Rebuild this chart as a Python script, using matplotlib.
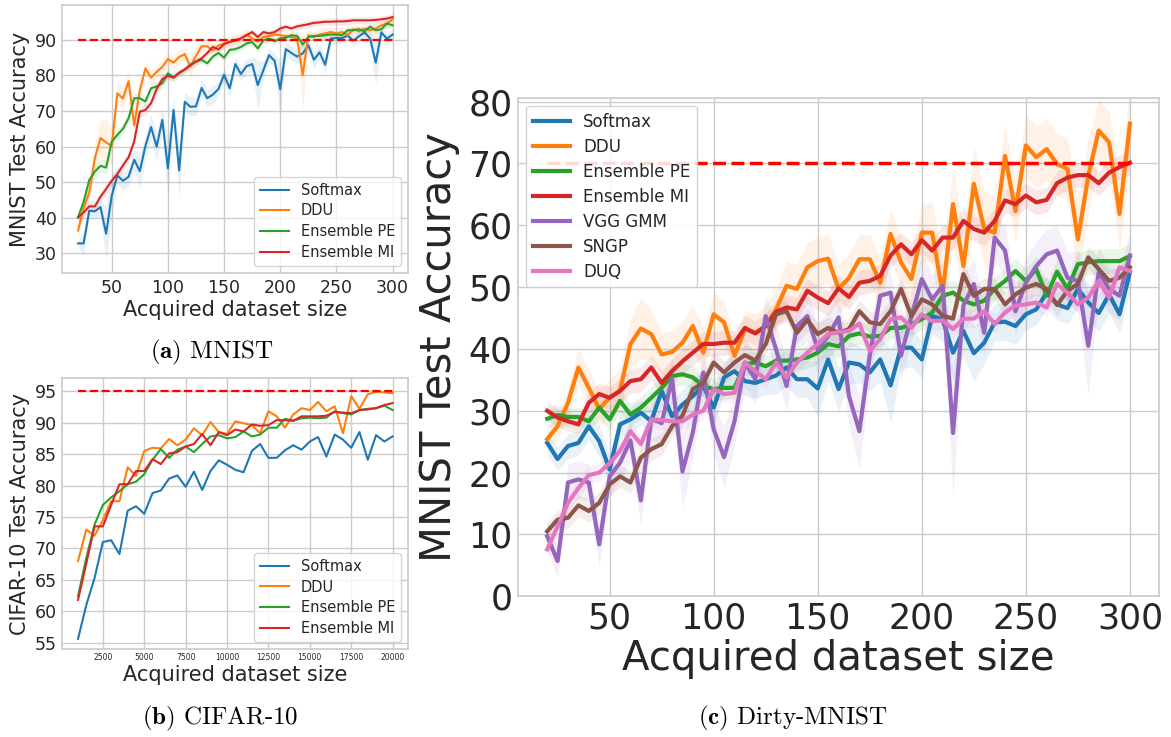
import matplotlib
matplotlib.use("Agg")
import matplotlib.pyplot as plt

# ── Data ──────────────────────────────────────────────────────────────────────

MNIST_SIZES = list(range(20, 301, 5))
CIFAR_SIZES = list(range(1000, 20001, 500))

# (a) MNIST
mnist_softmax = [32.8, 32.8, 42.0, 41.8, 43.0, 35.5, 46.2, 51.9, 50.4, 51.5, 56.3, 53.1, 60.2, 65.5, 60.0,
                 67.5, 53.9, 70.3, 53.3, 72.6, 71.2, 71.3, 76.5, 73.6, 74.6, 76.2, 80.2, 76.4, 83.2, 80.4,
                 82.6, 83.2, 77.3, 81.5, 85.7, 84.1, 76.1, 87.4, 86.3, 85.3, 86.2, 88.5, 84.4, 86.5, 83.0,
                 90.4, 90.5, 90.5, 91.2, 89.8, 91.0, 92.1, 90.4, 83.6, 92.1, 90.3, 91.5]
mnist_ddu = [36.4, 42.8, 47.0, 56.8, 62.4, 61.2, 60.2, 75.0, 73.5, 78.4, 66.0, 75.8, 82.0, 79.4, 81.0,
             82.4, 84.6, 83.6, 85.2, 86.0, 82.5, 85.5, 88.2, 88.2, 87.0, 88.4, 89.0, 89.5, 89.9, 90.4,
             91.5, 90.4, 89.5, 90.8, 91.1, 91.5, 91.3, 91.1, 90.8, 90.4, 80.1, 91.3, 90.8, 91.5, 91.8,
             92.2, 91.8, 92.2, 91.3, 93.0, 92.4, 93.2, 92.7, 93.2, 94.1, 94.6, 95.8]
mnist_pe = [40.1, 44.5, 50.6, 53.0, 54.6, 54.1, 61.4, 63.3, 65.0, 68.0, 73.6, 73.6, 72.7, 76.4, 76.9,
            77.8, 80.6, 79.4, 80.6, 81.6, 83.0, 83.9, 84.4, 83.4, 85.3, 86.3, 85.0, 87.2, 87.4, 88.0,
            89.0, 89.4, 87.6, 89.9, 90.4, 89.6, 90.4, 90.6, 91.3, 91.1, 88.7, 90.8, 91.1, 91.1, 91.3,
            91.5, 91.5, 91.3, 92.7, 92.7, 93.0, 92.4, 93.7, 92.7, 93.0, 94.6, 94.1]
mnist_mi = [40.1, 41.5, 43.2, 43.2, 45.9, 48.1, 50.4, 52.3, 54.7, 57.0, 61.5, 69.8, 70.3, 72.2, 76.2,
            79.0, 79.9, 79.4, 80.8, 81.7, 82.9, 83.9, 84.8, 86.3, 88.0, 87.3, 88.8, 89.4, 89.8, 90.4,
            91.3, 92.2, 90.8, 92.2, 91.8, 92.2, 93.2, 93.7, 93.2, 93.8, 94.1, 94.4, 94.8, 94.9, 95.1,
            95.1, 95.2, 95.2, 95.3, 95.5, 95.5, 95.5, 95.5, 95.6, 95.8, 96.0, 96.4]
mnist_softmax_std = [1.2, 3.0, 2.0, 2.0, 2.5, 7.5, 6.0, 2.5, 2.5, 2.5, 3.0, 5.0, 3.5, 3.5, 4.0,
                     3.5, 8.5, 3.5, 8.0, 3.0, 2.5, 2.5, 2.5, 2.5, 2.5, 2.0, 2.0, 2.5, 2.0, 2.0,
                     2.0, 2.0, 7.0, 2.5, 2.0, 2.0, 8.0, 2.0, 2.0, 2.0, 2.5, 2.0, 2.5, 2.0, 2.5,
                     1.5, 1.5, 1.5, 1.5, 1.5, 1.5, 1.5, 2.0, 6.5, 1.5, 1.5, 1.5]
mnist_ddu_std = [1.5, 2.0, 2.5, 4.0, 5.0, 6.5, 5.0, 3.0, 3.0, 3.0, 5.0, 3.0, 2.0, 2.0, 2.0,
                 2.0, 2.0, 2.0, 2.0, 2.0, 3.0, 2.0, 1.5, 1.5, 1.5, 1.5, 1.5, 1.5, 1.5, 1.5,
                 1.5, 1.5, 2.0, 1.5, 1.5, 1.5, 1.5, 1.5, 1.5, 1.5, 11.0, 1.5, 1.5, 1.5, 1.5,
                 1.5, 1.5, 1.5, 1.5, 1.5, 1.5, 1.5, 1.5, 1.5, 1.5, 1.5, 1.5]
mnist_pe_std = [1.5, 2.0, 2.0, 2.0, 2.0, 2.0, 2.0, 1.5, 1.5, 1.5, 1.5, 1.5, 1.5, 1.5, 1.5,
                1.5, 1.5, 1.0, 1.0, 1.0, 1.0, 1.0, 1.0, 1.0, 1.0, 1.0, 1.0, 1.0, 1.0, 1.0,
                1.0, 1.0, 1.0, 1.0, 1.0, 1.0, 1.0, 1.0, 1.0, 1.0, 1.0, 1.0, 1.0, 1.0, 1.0,
                1.0, 1.0, 1.0, 1.0, 1.0, 1.0, 1.0, 1.0, 1.0, 1.0, 1.0, 1.0]
mnist_mi_std = [1.5, 1.5, 1.5, 1.5, 1.5, 1.5, 1.5, 1.5, 1.5, 1.5, 1.5, 1.5, 1.5, 1.5, 1.5,
                1.5, 1.0, 1.0, 1.0, 1.0, 1.0, 1.0, 1.0, 1.0, 1.0, 1.0, 1.0, 1.0, 1.0, 1.0,
                1.0, 1.0, 1.0, 1.0, 1.0, 1.0, 1.0, 1.0, 1.0, 1.0, 1.0, 1.0, 1.0, 1.0, 1.0,
                1.0, 1.0, 1.0, 1.0, 1.0, 1.0, 1.0, 1.0, 1.0, 1.0, 1.0, 1.0]

# (b) CIFAR-10
cifar_softmax = [55.6, 61.0, 65.3, 71.0, 71.3, 69.1, 76.0, 76.7, 75.5, 78.8, 79.2, 81.1, 81.6, 79.8,
                 82.2, 79.3, 82.3, 84.0, 83.3, 82.5, 82.1, 85.5, 86.6, 84.4, 84.4, 85.6, 86.4, 85.7,
                 87.0, 87.7, 84.6, 88.1, 87.3, 86.0, 88.5, 84.1, 88.0, 87.0, 87.8]
cifar_ddu = [68.0, 73.0, 72.0, 74.5, 77.5, 77.5, 82.9, 81.5, 85.5, 86.0, 85.9, 87.4, 86.4, 87.3,
             89.1, 88.0, 90.1, 88.5, 88.2, 90.2, 89.9, 89.6, 88.3, 91.8, 91.0, 89.2, 91.3, 92.3,
             92.0, 93.3, 91.8, 92.6, 88.3, 94.2, 92.2, 94.5, 94.9, 94.8, 94.7]
cifar_pe = [62.4, 68.5, 73.8, 76.9, 78.1, 79.1, 80.2, 80.6, 81.8, 84.1, 85.8, 84.4, 85.7, 86.2,
            85.3, 86.6, 87.8, 88.0, 87.5, 87.7, 88.6, 87.8, 88.1, 89.2, 89.2, 90.6, 90.3, 90.7,
            90.8, 90.7, 90.8, 91.8, 91.5, 91.3, 92.0, 92.2, 92.3, 92.7, 92.0]
cifar_mi = [61.8, 67.6, 73.5, 73.5, 76.9, 80.2, 80.2, 82.3, 82.3, 84.2, 83.4, 85.1, 85.3, 86.2,
            86.6, 88.2, 86.4, 88.5, 88.0, 88.9, 88.6, 89.7, 89.5, 89.6, 90.4, 90.4, 90.3, 91.0,
            91.0, 91.0, 91.1, 91.7, 91.6, 91.5, 92.0, 92.1, 92.3, 92.8, 93.1]

# (c) Dirty-MNIST
dirty_softmax = [24.8, 22.2, 24.3, 24.8, 27.5, 25.1, 20.5, 27.8, 28.6, 29.7, 28.3, 33.2, 29.1, 31.0, 32.4,
                 34.0, 30.5, 35.4, 36.4, 34.8, 34.5, 35.1, 35.7, 37.0, 35.1, 35.1, 33.6, 38.3, 33.5, 37.8,
                 37.5, 36.2, 38.3, 34.1, 40.2, 40.2, 38.3, 45.3, 44.8, 39.4, 42.9, 39.3, 41.0, 44.3, 44.4,
                 43.7, 45.6, 46.4, 49.1, 47.2, 46.6, 49.7, 47.5, 45.8, 48.8, 45.6, 52.4]
dirty_ddu = [25.4, 27.5, 31.3, 37.0, 33.7, 30.3, 32.1, 33.3, 40.8, 43.3, 42.4, 39.1, 39.5, 41.0, 43.7,
             39.4, 45.6, 44.3, 38.9, 43.2, 42.6, 43.7, 46.4, 50.2, 49.7, 53.2, 54.2, 54.6, 49.7, 51.5,
             54.5, 54.5, 50.7, 58.6, 54.0, 51.3, 58.8, 58.8, 49.0, 63.4, 53.4, 66.7, 59.4, 58.8, 71.2,
             62.3, 72.9, 71.0, 72.3, 69.9, 69.1, 57.7, 68.0, 75.3, 73.4, 61.8, 76.4]
dirty_pe = [28.7, 29.3, 29.0, 29.0, 28.3, 30.5, 28.6, 31.6, 29.4, 30.5, 32.1, 33.7, 35.6, 35.9, 35.4,
            34.0, 33.5, 33.7, 33.7, 37.5, 37.8, 37.2, 38.1, 38.1, 38.3, 38.6, 39.4, 40.8, 40.4, 42.1,
            42.5, 42.0, 42.1, 43.4, 43.4, 44.0, 44.8, 45.9, 48.6, 49.1, 47.8, 47.2, 47.8, 49.7, 51.0,
            52.6, 51.0, 52.9, 48.6, 52.5, 49.7, 53.7, 54.0, 54.2, 54.2, 54.2, 55.0]
dirty_mi = [30.0, 28.9, 28.3, 27.8, 31.3, 32.7, 32.1, 33.2, 34.8, 35.1, 37.0, 34.5, 36.4, 38.0, 39.4,
            40.8, 40.8, 41.0, 41.0, 43.4, 42.5, 43.7, 46.0, 46.7, 46.4, 49.4, 48.3, 47.4, 49.8, 48.4,
            50.7, 51.0, 51.8, 55.1, 56.9, 55.3, 57.6, 55.9, 58.0, 58.0, 60.7, 59.4, 58.8, 60.7, 64.0,
            63.4, 64.8, 63.7, 64.1, 66.8, 67.7, 68.1, 68.1, 66.8, 68.5, 69.4, 70.1]
dirty_vgg = [9.7, 5.7, 18.4, 18.9, 18.4, 8.4, 19.4, 21.6, 25.2, 15.5, 28.7, 28.0, 35.2, 20.2, 26.5,
             36.2, 27.0, 22.5, 28.3, 37.8, 35.1, 45.3, 39.9, 34.0, 43.7, 45.3, 39.9, 42.1, 45.1, 32.4,
             26.7, 38.9, 48.6, 49.1, 38.9, 45.3, 51.3, 48.0, 50.2, 26.4, 47.0, 50.5, 42.6, 58.0, 55.9,
             46.1, 50.7, 53.4, 55.3, 55.9, 51.5, 51.0, 40.5, 52.4, 49.7, 48.6, 55.1]
dirty_sngp = [10.5, 12.4, 12.7, 14.7, 13.8, 15.1, 18.1, 19.4, 18.4, 22.4, 23.8, 24.6, 27.5, 29.2, 33.5,
              34.5, 37.8, 36.2, 37.8, 39.0, 38.1, 40.8, 45.6, 46.1, 42.6, 44.7, 42.4, 43.4, 42.6, 43.2,
              46.1, 44.3, 44.0, 46.1, 49.7, 45.3, 48.0, 47.2, 45.4, 44.9, 52.1, 48.6, 49.7, 49.7, 47.2,
              48.8, 49.9, 50.5, 49.7, 47.1, 49.4, 50.5, 54.8, 52.9, 51.0, 51.5, 53.2]
dirty_duq = [7.6, 11.3, 15.1, 17.5, 19.6, 20.0, 21.5, 23.5, 26.7, 24.6, 28.6, 28.5, 28.3, 28.3, 29.4,
             30.0, 33.5, 32.7, 32.9, 37.8, 36.4, 35.1, 37.8, 35.4, 37.8, 39.4, 40.8, 42.4, 42.7, 42.9,
             44.1, 39.7, 41.6, 44.8, 45.1, 43.4, 45.6, 44.5, 44.6, 43.2, 44.9, 44.9, 46.1, 44.0, 45.9,
             47.0, 47.2, 47.5, 46.7, 50.5, 49.1, 47.2, 48.3, 51.0, 48.3, 53.2, 52.6]

dirty_softmax_std = [2.0, 1.8, 2.0, 2.0, 2.2, 2.5, 2.5, 2.2, 2.0, 2.0, 2.0, 2.5, 2.5, 2.5, 2.5,
                     2.5, 3.0, 2.5, 2.5, 2.5, 2.5, 2.5, 3.0, 3.0, 3.0, 3.0, 4.5, 3.5, 3.5, 3.5,
                     3.0, 3.0, 3.5, 6.0, 3.5, 3.0, 3.0, 3.0, 3.5, 4.5, 4.0, 4.5, 3.5, 3.0, 3.0,
                     3.0, 2.5, 2.5, 2.5, 2.5, 2.5, 3.0, 3.0, 3.0, 3.0, 3.0, 3.0]
dirty_ddu_std = [1.5, 2.0, 2.5, 3.0, 3.0, 3.0, 3.0, 3.5, 4.0, 5.0, 4.0, 3.5, 3.5, 3.5, 3.5,
                 3.5, 3.5, 3.5, 3.0, 3.0, 3.0, 3.5, 3.5, 4.0, 4.0, 4.0, 4.0, 4.0, 4.0, 4.0,
                 4.0, 4.0, 4.0, 4.0, 4.0, 4.5, 4.5, 5.0, 6.0, 6.0, 6.0, 6.0, 6.0, 6.0, 5.0,
                 5.0, 5.0, 5.0, 5.0, 5.0, 5.0, 6.0, 6.0, 5.0, 5.0, 6.0, 6.0]
dirty_pe_std = [1.5, 1.5, 1.5, 1.5, 1.5, 1.8, 1.8, 1.8, 1.8, 1.8, 1.8, 1.8, 1.8, 1.8, 1.8,
                1.8, 1.8, 1.8, 1.8, 1.8, 1.8, 1.8, 1.8, 1.8, 1.8, 1.8, 1.8, 1.8, 1.8, 1.8,
                1.8, 1.8, 1.8, 1.8, 1.8, 1.8, 1.8, 1.8, 2.0, 2.0, 2.0, 2.0, 2.0, 2.0, 2.0,
                2.0, 2.0, 2.0, 2.0, 2.0, 2.0, 2.0, 2.0, 2.0, 2.0, 2.0, 2.0]
dirty_mi_std = [1.5, 1.5, 1.5, 1.5, 1.8, 1.8, 1.8, 2.0, 2.0, 2.0, 2.0, 2.0, 2.0, 2.0, 2.0,
                2.0, 2.0, 2.0, 2.0, 2.0, 2.0, 2.0, 2.0, 2.0, 2.0, 2.0, 2.0, 2.0, 2.0, 2.0,
                2.0, 2.0, 2.0, 2.0, 2.0, 2.0, 2.0, 2.0, 2.0, 2.0, 2.0, 2.0, 2.0, 2.0, 2.0,
                2.0, 2.0, 2.0, 2.0, 2.0, 2.0, 2.0, 2.0, 2.0, 2.0, 2.0, 2.0]
dirty_vgg_std = [2.5, 2.5, 3.0, 3.0, 3.0, 3.5, 3.0, 3.0, 3.0, 4.0, 3.5, 3.5, 3.5, 6.0, 4.0,
                 3.5, 4.0, 5.0, 4.0, 4.0, 4.0, 3.5, 4.0, 4.0, 4.0, 4.0, 4.0, 4.0, 4.0, 5.0,
                 6.0, 4.0, 3.5, 3.5, 4.0, 4.0, 4.0, 4.0, 4.0, 10.0, 5.0, 4.0, 4.0, 4.0, 4.0,
                 4.0, 4.0, 4.0, 4.0, 4.0, 4.0, 5.0, 8.0, 4.0, 4.0, 4.0, 4.0]
dirty_sngp_std = [1.5, 1.5, 1.8, 1.8, 1.8, 1.8, 1.8, 1.8, 1.8, 1.8, 1.8, 1.8, 1.8, 1.8, 1.8,
                  1.8, 1.8, 1.8, 1.8, 1.8, 1.8, 1.8, 1.8, 1.8, 1.8, 1.8, 1.8, 1.8, 1.8, 1.8,
                  1.8, 1.8, 1.8, 1.8, 1.8, 1.8, 1.8, 1.8, 1.8, 1.8, 1.8, 1.8, 1.8, 1.8, 1.8,
                  1.8, 1.8, 1.8, 1.8, 1.8, 1.8, 1.8, 1.8, 1.8, 1.8, 1.8, 1.8]
dirty_duq_std = [1.5, 1.5, 1.5, 1.5, 1.5, 1.5, 1.5, 1.5, 1.5, 1.5, 1.5, 1.5, 1.5, 1.5, 1.5,
                 1.5, 1.5, 1.5, 1.5, 1.5, 1.5, 1.5, 1.5, 1.5, 1.5, 1.5, 1.5, 1.5, 1.5, 1.5,
                 1.5, 1.5, 1.5, 1.5, 1.5, 1.5, 1.5, 1.5, 1.5, 1.5, 1.5, 1.5, 1.5, 1.5, 1.5,
                 1.5, 1.5, 1.5, 1.5, 1.5, 1.5, 1.5, 1.5, 1.5, 1.5, 1.5, 1.5]

# ── Style ─────────────────────────────────────────────────────────────────────

TEXT = "#262626"
LIGHT = "#cccccc"
COLORS = {
    "Softmax": "#1f77b4",
    "DDU": "#ff7f0e",
    "Ensemble PE": "#2ca02c",
    "Ensemble MI": "#d62728",
    "VGG GMM": "#9467bd",
    "SNGP": "#8c564b",
    "DUQ": "#e377c2",
}

plt.rcParams.update({
    "font.family": "DejaVu Sans",
    "text.color": TEXT,
    "axes.labelcolor": TEXT,
    "axes.edgecolor": LIGHT,
    "axes.linewidth": 1.25,
    "grid.color": LIGHT,
    "grid.linewidth": 1.0,
    "xtick.color": TEXT,
    "ytick.color": TEXT,
    "xtick.major.size": 0,
    "ytick.major.size": 0,
    "legend.framealpha": 0.8,
    "legend.edgecolor": "0.8",
    "mathtext.fontset": "cm",
})

fig = plt.figure(figsize=(11.71, 7.37), dpi=100)


def draw_series(ax, xs, series, lw):
    for name, ys, std in series:
        c = COLORS[name]
        if std is not None:
            lo = [y - s for y, s in zip(ys, std)]
            hi = [y + s for y, s in zip(ys, std)]
            ax.fill_between(xs, lo, hi, color=c, alpha=0.1, linewidth=0)
        ax.plot(xs, ys, color=c, lw=lw, label=name)


def style_axes(ax, tick_size, label_size):
    ax.grid(True)
    ax.set_axisbelow(True)
    ax.tick_params(labelsize=tick_size, pad=4)
    ax.set_xlabel("Acquired dataset size", fontsize=label_size, labelpad=2)


# ── (a) MNIST ─────────────────────────────────────────────────────────────────
ax_a = fig.add_axes([0.0532, 0.6292, 0.2955, 0.3640])
draw_series(ax_a, MNIST_SIZES, [
    ("Softmax", mnist_softmax, mnist_softmax_std),
    ("DDU", mnist_ddu, mnist_ddu_std),
    ("Ensemble PE", mnist_pe, mnist_pe_std),
    ("Ensemble MI", mnist_mi, mnist_mi_std),
], lw=1.5)
ax_a.hlines(90, MNIST_SIZES[0], MNIST_SIZES[-1], colors="red", linestyles="--", lw=1.6)
ax_a.set_xlim(6, 314)
ax_a.set_ylim(24.4, 99.8)
ax_a.set_xticks([50, 100, 150, 200, 250, 300])
ax_a.set_yticks([30, 40, 50, 60, 70, 80, 90])
style_axes(ax_a, 12.5, 15)
ax_a.set_ylabel("MNIST Test Accuracy", fontsize=15, labelpad=3)
ax_a.legend(loc="lower right", fontsize=10.5, labelspacing=0.4)

# ── (b) CIFAR-10 ──────────────────────────────────────────────────────────────
ax_b = fig.add_axes([0.0532, 0.1190, 0.2955, 0.3677])
draw_series(ax_b, CIFAR_SIZES, [
    ("Softmax", cifar_softmax, None),
    ("DDU", cifar_ddu, None),
    ("Ensemble PE", cifar_pe, None),
    ("Ensemble MI", cifar_mi, None),
], lw=1.5)
ax_b.hlines(95, CIFAR_SIZES[0], CIFAR_SIZES[-1], colors="red", linestyles="--", lw=1.6)
ax_b.set_xlim(50, 20950)
ax_b.set_ylim(53.95, 97.05)
ax_b.set_xticks([2500, 5000, 7500, 10000, 12500, 15000, 17500, 20000])
ax_b.set_yticks([55, 60, 65, 70, 75, 80, 85, 90, 95])
style_axes(ax_b, 12.5, 15)
ax_b.tick_params(axis="x", labelsize=5.5, pad=3)
ax_b.set_ylabel("CIFAR-10 Test Accuracy", fontsize=15, labelpad=3)
ax_b.legend(loc="lower right", fontsize=10.5, labelspacing=0.4)

# ── (c) Dirty-MNIST ───────────────────────────────────────────────────────────
ax_c = fig.add_axes([0.4424, 0.1909, 0.5474, 0.6768])
draw_series(ax_c, MNIST_SIZES, [
    ("Softmax", dirty_softmax, dirty_softmax_std),
    ("DDU", dirty_ddu, dirty_ddu_std),
    ("Ensemble PE", dirty_pe, dirty_pe_std),
    ("Ensemble MI", dirty_mi, dirty_mi_std),
    ("VGG GMM", dirty_vgg, dirty_vgg_std),
    ("SNGP", dirty_sngp, dirty_sngp_std),
    ("DUQ", dirty_duq, dirty_duq_std),
], lw=3)
ax_c.hlines(70, MNIST_SIZES[0], MNIST_SIZES[-1], colors="red", linestyles="--", lw=2.5, zorder=2)
ax_c.set_xlim(6, 314)
ax_c.set_ylim(0, 80.65)
ax_c.set_xticks([50, 100, 150, 200, 250, 300])
ax_c.set_yticks([0, 10, 20, 30, 40, 50, 60, 70, 80])
style_axes(ax_c, 25, 29)
ax_c.set_ylabel("MNIST Test Accuracy", fontsize=30, labelpad=6)
leg_c = ax_c.legend(loc="upper left", fontsize=12, labelspacing=0.42, handlelength=2.2, framealpha=0.85)
leg_c.set_zorder(10)

# ── Captions ──────────────────────────────────────────────────────────────────
fig.text(212 / 1171, 1 - 352 / 737, r"$\mathbf{(a)}$ MNIST", fontfamily="cmr10",
         fontsize=18, color="black", ha="center", va="center")
fig.text(220 / 1171, 1 - 718 / 737, r"$\mathbf{(b)}$ CIFAR-10", fontfamily="cmr10",
         fontsize=18, color="black", ha="center", va="center")
fig.text(793 / 1171, 1 - 718 / 737, r"$\mathbf{(c)}$ Dirty-MNIST", fontfamily="cmr10",
         fontsize=18, color="black", ha="center", va="center")

fig.savefig("out.png", dpi=100)
plt.close(fig)
